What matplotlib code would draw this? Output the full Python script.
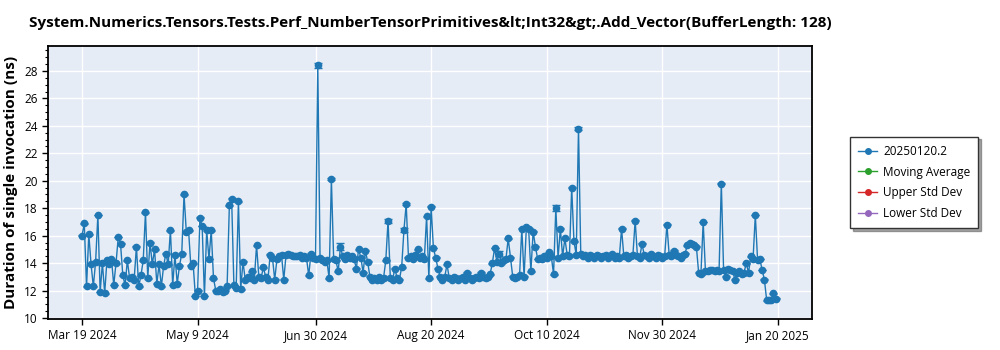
import numpy as np
import pandas as pd
import matplotlib
matplotlib.use('Agg')
import matplotlib.pyplot as plt
import matplotlib.dates as mdates
from matplotlib.lines import Line2D
from matplotlib.ticker import MultipleLocator, FuncFormatter

plt.rcParams['font.family'] = ['Open Sans', 'DejaVu Sans']

# one measurement per day, starting at the first run
start_date = '2024-03-19'
durations = [
    16.0, 16.9, 12.3, 16.1, 13.9, 12.3, 14.1, 17.5, 11.9, 14.0,
    11.8, 14.2, 13.9, 14.3, 12.4, 14.0, 15.9, 15.4, 13.1, 12.4,
    14.2, 12.9, 13.0, 12.8, 15.2, 12.3, 13.1, 14.2, 17.7, 12.9,
    15.5, 13.9, 15.0, 12.5, 13.9, 12.3, 13.8, 14.7, 13.9, 16.4,
    12.4, 14.6, 12.5, 13.8, 14.7, 19.0, 16.3, 16.4, 13.8, 14.0,
    11.6, 12.0, 17.3, 16.7, 11.6, 16.4, 14.3, 16.4, 12.9, 12.0,
    12.0, 12.1, 11.9, 12.0, 12.3, 18.2, 18.7, 12.4, 12.2, 18.5,
    12.1, 14.1, 12.8, 13.0, 12.9, 13.4, 12.8, 15.3, 13.0, 12.9,
    13.7, 13.0, 12.8, 14.6, 14.4, 12.8, 14.3, 14.5, 14.6, 12.8,
    14.6, 14.7, 14.6, 14.5, 14.5, 14.5, 14.6, 14.4, 14.5, 14.4,
    13.1, 14.7, 14.4, 14.3, 28.4, 14.4, 14.2, 14.1, 14.2, 12.9,
    20.1, 14.3, 14.2, 13.4, 15.2, 14.5, 14.3, 14.6, 14.4, 14.5,
    14.3, 13.6, 15.0, 14.4, 13.3, 14.9, 14.1, 13.0, 12.8, 12.9,
    12.8, 13.0, 12.8, 12.9, 14.2, 17.1, 12.9, 12.8, 13.6, 12.9,
    12.8, 13.7, 16.4, 18.3, 14.4, 14.5, 14.3, 14.6, 15.0, 14.4,
    14.5, 14.3, 17.4, 12.9, 18.1, 15.1, 14.4, 13.6, 13.0, 12.8,
    13.0, 13.9, 12.9, 12.8, 13.0, 12.9, 12.8, 12.9, 13.0, 12.8,
    13.3, 12.9, 12.8, 12.9, 13.0, 12.9, 13.3, 13.0, 12.9, 13.0,
    13.2, 14.0, 15.1, 14.1, 14.7, 14.0, 14.2, 14.3, 15.8, 14.4,
    13.0, 12.9, 13.0, 13.1, 16.5, 13.0, 16.6, 16.5, 13.4, 16.3,
    15.2, 14.3, 14.4, 14.3, 14.5, 14.4, 14.8, 14.5, 13.2, 18.0,
    14.4, 16.5, 14.5, 15.8, 14.6, 14.5, 19.5, 15.6, 14.6, 23.8,
    14.7, 14.5, 14.6, 14.4, 14.6, 14.5, 14.4, 14.6, 14.5, 14.4,
    14.5, 14.6, 14.4, 14.5, 14.7, 14.4, 14.5, 14.4, 16.5, 14.5,
    14.6, 14.4, 14.5, 14.6, 17.1, 14.5, 14.4, 15.4, 14.6, 14.5,
    14.4, 14.7, 14.5, 14.4, 14.6, 14.5, 14.4, 14.5, 16.8, 14.6,
    14.5, 14.9, 14.6, 14.5, 14.4, 14.6, 14.7, 15.3, 15.5, 15.4,
    15.3, 15.2, 13.3, 13.2, 17.0, 13.4, 13.4, 13.5, 13.5, 13.4,
    13.5, 13.4, 19.8, 13.5, 13.0, 13.6, 13.5, 13.4, 12.8, 13.3,
    13.4, 13.2, 13.3, 14.0, 13.3, 14.5, 14.3, 17.5, 14.2, 14.3,
    13.5, 12.8, 11.3, 11.3, 11.3, 11.8, 11.4,
]
# runs with a noticeable spread get a visible error bar
error_days = [104, 110, 114, 135, 142, 143, 184, 209, 219]
error_sizes = [0.15, 0.08, 0.25, 0.15, 0.15, 0.1, 0.2, 0.2, 0.12]

tick_dates = ['2024-03-19', '2024-05-09', '2024-06-30', '2024-08-20',
              '2024-10-10', '2024-11-30', '2025-01-20']
legend_labels = ['20250120.2', 'Moving Average', 'Upper Std Dev', 'Lower Std Dev']
legend_colors = ['#1f77b4', '#2ca02c', '#d62728', '#9467bd']

dates = pd.date_range(start_date, periods=len(durations), freq='D')
errors = np.full(len(durations), 0.03)
errors[error_days] = error_sizes


def date_label(x, pos):
    d = mdates.num2date(x)
    return f'{d:%b} {d.day} {d:%Y}'


fig = plt.figure(figsize=(10, 3.5), dpi=100)
ax = fig.add_axes([0.048, 0.0886, 0.764, 0.78])
ax.set_facecolor('#E5ECF6')

ax.errorbar(dates, durations, yerr=errors, fmt='-o', color='#1f77b4',
            markersize=4.5, linewidth=1, elinewidth=1, capsize=3, zorder=3)

ax.set_xlim(pd.Timestamp('2024-03-04'), pd.Timestamp('2025-02-04'))
ax.set_ylim(9.93, 29.82)
ax.set_xticks(pd.to_datetime(tick_dates))
ax.xaxis.set_major_formatter(FuncFormatter(date_label))
ax.yaxis.set_major_locator(MultipleLocator(2))
ax.yaxis.set_minor_locator(MultipleLocator(0.5))
ax.tick_params(axis='both', labelsize=8.5, length=4, width=1)
ax.tick_params(axis='y', which='minor', length=2.5, width=0.8)
ax.grid(True, color='white', linewidth=1, zorder=0)
ax.set_axisbelow(True)
for spine in ax.spines.values():
    spine.set_linewidth(1.3)
    spine.set_color('black')

ax.set_ylabel('Duration of single invocation (ns)', fontsize=11, fontweight='bold')
ax.set_title('System.Numerics.Tensors.Tests.Perf_NumberTensorPrimitives&lt;Int32&gt;.Add_Vector(BufferLength: 128)',
             fontsize=11, fontweight='bold', pad=14)

handles = [Line2D([], [], color=c, marker='o', markersize=4, linewidth=1)
           for c in legend_colors]
leg = fig.legend(handles, legend_labels, loc='center left', bbox_to_anchor=(0.844, 0.479),
                 fontsize=8.5, frameon=True, fancybox=False, shadow=True,
                 borderpad=0.7, labelspacing=0.65, handlelength=1.6, handletextpad=0.5)
leg.get_frame().set_edgecolor('#333333')
leg.get_frame().set_linewidth(1)

fig.savefig('out.png', dpi=100)
